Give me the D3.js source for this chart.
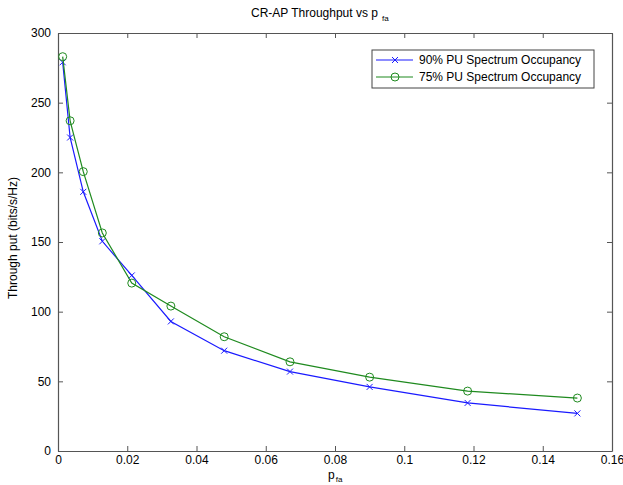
<!DOCTYPE html>
<html lang="en">
  <head>
    <meta charset="UTF-8" />
    <title>CR-AP Throughput vs pfa</title>
    <script src="https://d3js.org/d3.v7.min.js"></script>
    <style>
      body {
        margin: 0;
        background: #fff;
      }
      text {
        font-family: Arial, "Liberation Sans", sans-serif;
        fill: #000;
      }
    </style>
  </head>
  <body>
    <div id="chart"></div>
    <script>
      // values
      const pfa = [0.00135, 0.0035, 0.0073, 0.0128, 0.0213, 0.0326, 0.048, 0.067, 0.09, 0.1183, 0.15];
      const occ90 = [279, 225, 186, 150.5, 126, 93, 72, 57, 46, 34.5, 27];
      const occ75 = [283, 237, 200.5, 156.5, 120.5, 104, 82, 64, 53, 43, 38];
      const seriesNames = ["90% PU Spectrum Occupancy", "75% PU Spectrum Occupancy"];
      const xTicks = [0, 0.02, 0.04, 0.06, 0.08, 0.1, 0.12, 0.14, 0.16];
      const yTicks = [0, 50, 100, 150, 200, 250, 300];

      const width = 623;
      const height = 485;
      const margin = { top: 33, right: 11, bottom: 34, left: 58 };
      const innerW = width - margin.left - margin.right;
      const innerH = height - margin.top - margin.bottom;

      const x = d3.scaleLinear().domain([0, 0.16]).range([0, innerW]);
      const y = d3.scaleLinear().domain([0, 300]).range([innerH, 0]);

      const svg = d3
        .select("#chart")
        .append("svg")
        .attr("width", width)
        .attr("height", height);

      const g = svg
        .append("g")
        .attr("transform", `translate(${margin.left},${margin.top})`);

      // axes, MATLAB style: ticks pointing inward, box all round
      const axisColor = "#555";
      const fmt = (d) => (d === 0 ? "0" : String(+d.toFixed(2)));

      const xAxis = g
        .append("g")
        .attr("transform", `translate(0,${innerH})`)
        .call(d3.axisBottom(x).tickValues(xTicks).tickFormat(fmt).tickSizeInner(-5).tickSizeOuter(0).tickPadding(4));
      const xAxisTop = g
        .append("g")
        .call(d3.axisTop(x).tickValues(xTicks).tickFormat("").tickSizeInner(-5).tickSizeOuter(0));
      const yAxis = g
        .append("g")
        .call(d3.axisLeft(y).tickValues(yTicks).tickSizeInner(-5).tickSizeOuter(0).tickPadding(7));
      const yAxisRight = g
        .append("g")
        .attr("transform", `translate(${innerW},0)`)
        .call(d3.axisRight(y).tickValues(yTicks).tickFormat("").tickSizeInner(-5).tickSizeOuter(0));

      [xAxis, xAxisTop, yAxis, yAxisRight].forEach((a) => {
        a.select(".domain").attr("stroke", axisColor).attr("stroke-width", 1.2);
        a.selectAll(".tick line").attr("stroke", axisColor);
        a.selectAll(".tick text").style("font-size", "12px").attr("fill", "#000");
      });

      // series
      const series = [
        { name: seriesNames[0], values: occ90, color: "#1a1aff", marker: "x" },
        { name: seriesNames[1], values: occ75, color: "#1f8a1f", marker: "o" },
      ];

      const line = d3
        .line()
        .x((d) => x(d[0]))
        .y((d) => y(d[1]));

      function drawMarker(sel, type, color) {
        if (type === "x") {
          sel
            .append("path")
            .attr("d", "M-3,-3L3,3M-3,3L3,-3")
            .attr("stroke", color)
            .attr("stroke-width", 1)
            .attr("fill", "none");
        } else {
          sel
            .append("circle")
            .attr("r", 4)
            .attr("stroke", color)
            .attr("stroke-width", 1)
            .attr("fill", "none");
        }
      }

      series.forEach((s) => {
        const pts = pfa.map((p, i) => [p, s.values[i]]);
        g.append("path")
          .datum(pts)
          .attr("d", line)
          .attr("fill", "none")
          .attr("stroke", s.color)
          .attr("stroke-width", 1.2);
        g.append("g")
          .selectAll("g")
          .data(pts)
          .join("g")
          .attr("transform", (d) => `translate(${x(d[0])},${y(d[1])})`)
          .each(function () {
            drawMarker(d3.select(this), s.marker, s.color);
          });
      });

      // legend
      const legend = g.append("g").attr("transform", `translate(${372 - margin.left},${50 - margin.top})`);
      legend
        .append("rect")
        .attr("width", 222)
        .attr("height", 38)
        .attr("fill", "#fff")
        .attr("stroke", "#444")
        .attr("stroke-width", 1);
      series.forEach((s, i) => {
        const row = legend.append("g").attr("transform", `translate(0,${10 + i * 17})`);
        row
          .append("line")
          .attr("x1", 4)
          .attr("x2", 41)
          .attr("stroke", s.color)
          .attr("stroke-width", 1.2);
        drawMarker(row.append("g").attr("transform", "translate(23,0)"), s.marker, s.color);
        row
          .append("text")
          .attr("x", 47)
          .attr("dy", "0.35em")
          .style("font-size", "12px")
          .text(s.name);
      });

      // title and axis labels
      const title = svg
        .append("text")
        .attr("x", 251)
        .attr("y", 17)
        .style("font-size", "12px");
      title.append("tspan").text("CR-AP Throughput vs p");
      title.append("tspan").attr("dx", 4).attr("dy", 4).style("font-size", "8px").text("fa");

      const xLabel = svg
        .append("text")
        .attr("x", 328)
        .attr("y", 479)
        .style("font-size", "12px");
      xLabel.append("tspan").text("p");
      xLabel.append("tspan").attr("dx", 1).attr("dy", 3).style("font-size", "8px").text("fa");

      svg
        .append("text")
        .attr("transform", `translate(17,${margin.top + innerH / 2 - 4}) rotate(-90)`)
        .attr("text-anchor", "middle")
        .style("font-size", "12px")
        .text("Through put (bits/s/Hz)");
    </script>
  </body>
</html>
